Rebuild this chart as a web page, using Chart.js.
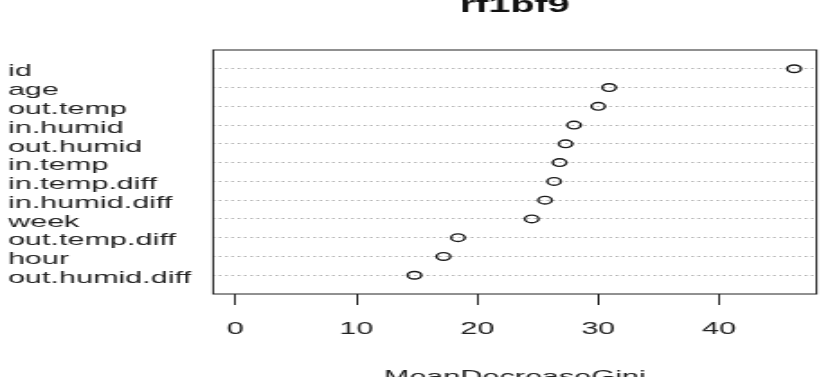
<!DOCTYPE html>
<html>
<head>
<meta charset="utf-8">
<script src="https://cdn.jsdelivr.net/npm/chart.js@4"></script>
<style>
  html, body { margin: 0; padding: 0; background: #fff; overflow: hidden; }
  /* the reference plot is stretched sideways, so the canvas is drawn narrow and widened here */
  #wrap { width: 459px; height: 377px; transform: scaleX(1.8); transform-origin: 0 0; }
</style>
</head>
<body>
<div id="wrap"><canvas id="chart" width="459" height="377"></canvas></div>
<script>
// variable importance, top to bottom as in the plot
const categories = ['id', 'age', 'out.temp', 'in.humid', 'out.humid', 'in.temp',
    'in.temp.diff', 'in.humid.diff', 'week', 'out.temp.diff', 'hour', 'out.humid.diff'];
const giniValues = [46.2, 30.9, 30.0, 28.0, 27.3, 26.8, 26.35, 25.6, 24.5, 18.4, 17.2, 14.8];
const xTicks = [0, 10, 20, 30, 40];
const chartTitle = 'rf1bf9';
const xTitle = 'MeanDecreaseGini';

const FONT = "'Liberation Sans', Arial, sans-serif";
const n = categories.length;

// box around plot + titles, like base R
const boxAndTitles = {
    id: 'boxAndTitles',
    afterDraw(chart) {
        const a = chart.chartArea;
        const ctx = chart.ctx;
        const cx = (a.left + a.right) / 2;
        ctx.save();
        ctx.strokeStyle = '#222';
        ctx.lineWidth = 1;
        ctx.strokeRect(a.left, a.top, a.right - a.left, a.bottom - a.top);
        ctx.fillStyle = '#111';
        ctx.textAlign = 'center';
        ctx.textBaseline = 'alphabetic';
        ctx.font = 'bold 22px ' + FONT;
        ctx.fillText(chartTitle, cx, 12);
        ctx.fillStyle = '#222';
        ctx.font = '17px ' + FONT;
        ctx.fillText(xTitle, cx, 382);
        ctx.restore();
    }
};

new Chart(document.getElementById('chart'), {
    type: 'scatter',
    data: {
        datasets: [{
            data: categories.map((c, i) => ({ x: giniValues[i], y: n - i })),
            pointStyle: 'circle',
            pointRadius: 3.8,
            pointBorderWidth: 1.4,
            pointBorderColor: '#1a1a1a',
            pointBackgroundColor: 'rgba(255,255,255,0)',
            showLine: false
        }]
    },
    options: {
        responsive: false,
        animation: false,
        layout: { padding: { left: 4.4, right: 4.6, top: 50, bottom: 0 } },
        plugins: {
            legend: { display: false },
            tooltip: { enabled: false }
        },
        scales: {
            x: {
                type: 'linear',
                min: -1.85,
                max: 48.05,
                afterBuildTicks: (axis) => { axis.ticks = xTicks.map(v => ({ value: v })); },
                afterFit: (axis) => { axis.height = 83; },
                grid: {
                    drawOnChartArea: false,
                    drawTicks: true,
                    tickLength: 11,
                    tickColor: '#222',
                    tickWidth: 1
                },
                border: { display: false },
                ticks: {
                    padding: 14,
                    color: '#222',
                    font: { family: FONT, size: 17 },
                    maxRotation: 0
                }
            },
            y: {
                type: 'linear',
                min: 0,
                max: n + 1,
                afterBuildTicks: (axis) => { axis.ticks = categories.map((c, i) => ({ value: n - i })); },
                afterFit: (axis) => { axis.width = 114; },
                grid: {
                    drawOnChartArea: true,
                    drawTicks: false,
                    color: '#b4b4b4',
                    lineWidth: 1
                },
                border: { display: false, dash: [1.5, 2] },
                ticks: {
                    crossAlign: 'far',
                    labelOffset: 3,
                    color: '#222',
                    font: { family: FONT, size: 17, lineHeight: 1 },
                    callback: (v) => categories[n - v]
                }
            }
        }
    },
    plugins: [boxAndTitles]
});
</script>
</body>
</html>
